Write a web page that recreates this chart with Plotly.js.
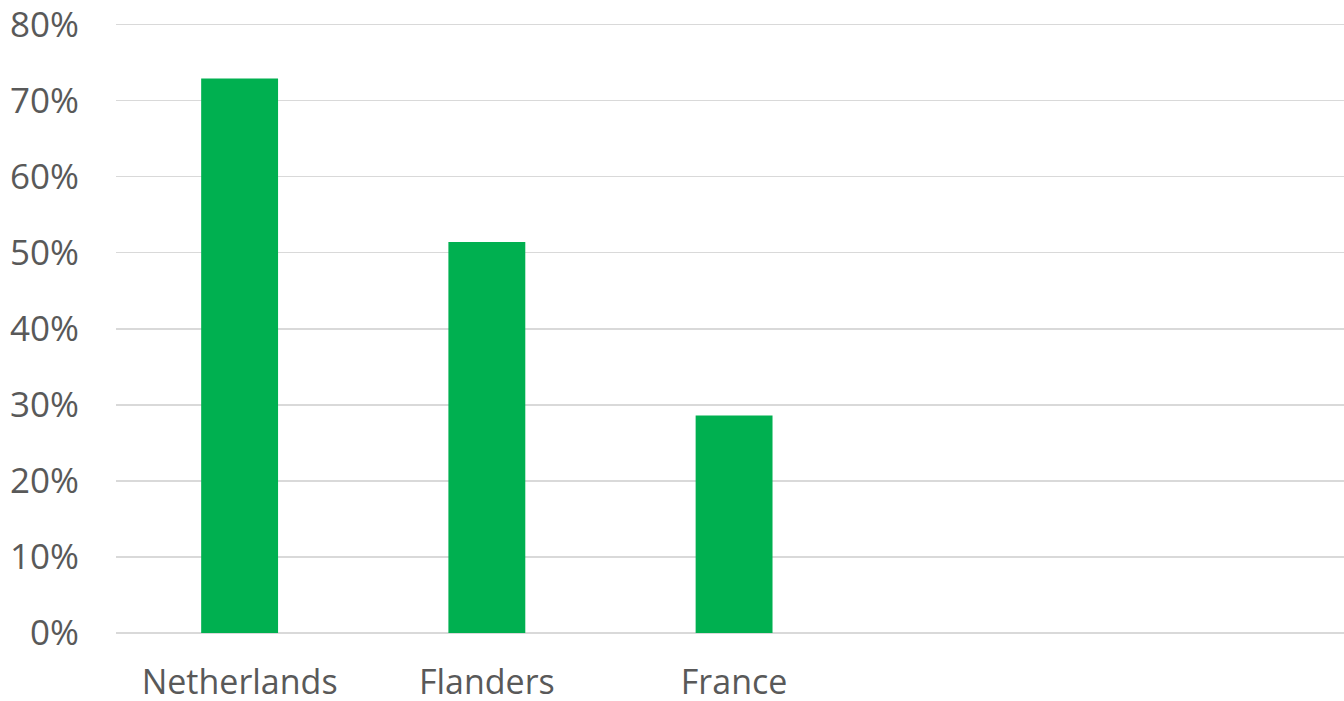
<!DOCTYPE html>
<html><head><meta charset="utf-8">
<script src="https://cdn.plot.ly/plotly-3.0.1.min.js"></script>
<style>html,body{margin:0;padding:0;background:#fff}#chart{width:1344px;height:701px}</style>
</head><body><div id="chart"></div>
<script>
const categories = ["Netherlands", "Flanders", "France"];
const values = [0.729, 0.514, 0.286];
const yTicks = [0, 0.1, 0.2, 0.3, 0.4, 0.5, 0.6, 0.7, 0.8];

const xPos = categories.map((c, i) => i);
Plotly.newPlot('chart', [{
  type: 'bar', x: xPos, y: values, width: 0.311,
  marker: {color: '#00b050'}, hoverinfo: 'skip'
}], {
  width: 1344, height: 701,
  margin: {l: 116, r: 0, t: 23, b: 68},
  paper_bgcolor: '#fff', plot_bgcolor: '#fff',
  showlegend: false,
  font: {family: 'Open Sans, Liberation Sans, sans-serif', color: '#595959'},
  xaxis: {
    range: [-0.5, 4.467], tickmode: 'array', tickvals: xPos, ticktext: categories,
    showgrid: false, zeroline: false, showline: false, ticks: '',
    tickfont: {size: 34, color: '#595959'}, ticklabelstandoff: 26,
    ticklabeloverflow: 'allow', fixedrange: true
  },
  yaxis: {
    range: [0, 0.802], tickmode: 'array', tickvals: yTicks, tickformat: '.0%',
    showgrid: true, gridcolor: '#d9d9d9', gridwidth: 1.5,
    zeroline: true, zerolinecolor: '#d9d9d9', zerolinewidth: 1.5,
    showline: false, ticks: '', tickfont: {size: 35, color: '#595959'},
    ticklabelstandoff: 36, ticklabeloverflow: 'allow', fixedrange: true
  }
}, {displayModeBar: false, staticPlot: true});
</script></body></html>
